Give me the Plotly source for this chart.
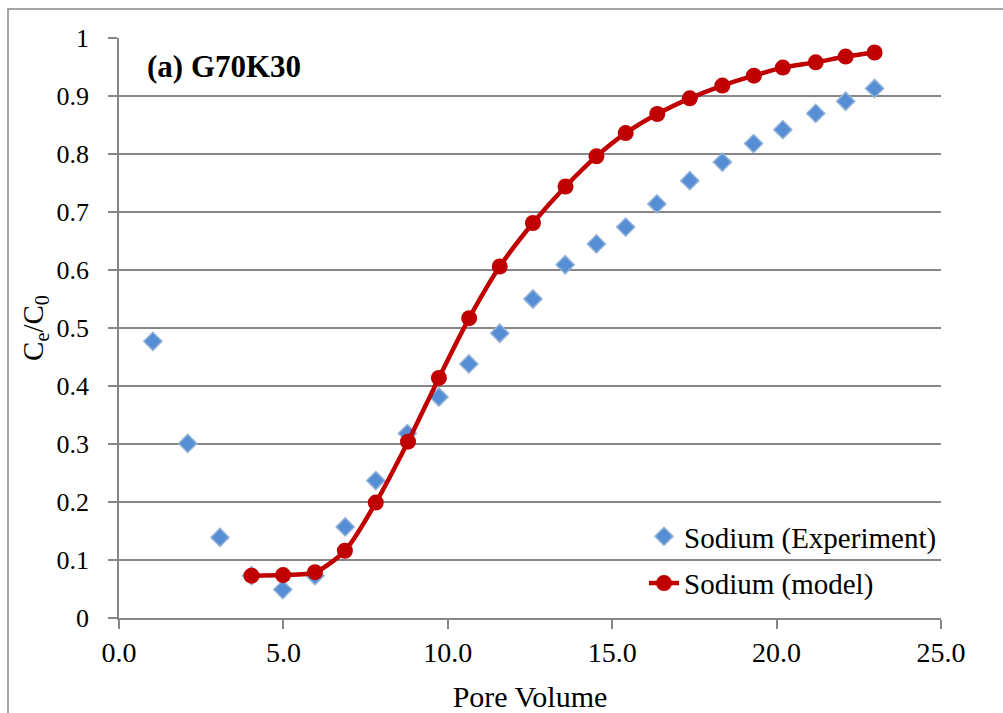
import plotly.graph_objects as go

# Experimental data (blue diamonds)
exp_pv = [1.03, 2.09, 3.07, 4.03, 4.98, 5.96, 6.88, 7.81, 8.77, 9.73, 10.64, 11.58,
          12.59, 13.57, 14.52, 15.41, 16.36, 17.36, 18.35, 19.30, 20.19, 21.19, 22.10, 22.98]
exp_c = [0.477, 0.301, 0.139, 0.073, 0.049, 0.073, 0.157, 0.237, 0.318, 0.381, 0.438, 0.491,
         0.550, 0.609, 0.645, 0.674, 0.714, 0.754, 0.786, 0.818, 0.842, 0.870, 0.891, 0.913]

# Model data (red line with circles)
mod_pv = [4.03, 4.99, 5.96, 6.87, 7.81, 8.79, 9.73, 10.65, 11.58, 12.59, 13.58, 14.52,
          15.41, 16.37, 17.36, 18.35, 19.31, 20.19, 21.19, 22.10, 22.98]
mod_c = [0.073, 0.074, 0.079, 0.116, 0.199, 0.304, 0.414, 0.517, 0.606, 0.681, 0.744, 0.796,
         0.836, 0.869, 0.896, 0.918, 0.935, 0.949, 0.958, 0.968, 0.975]

x_ticks = [0, 5, 10, 15, 20, 25]
y_ticks = [0, 0.1, 0.2, 0.3, 0.4, 0.5, 0.6, 0.7, 0.8, 0.9, 1]

FONT = "Liberation Serif"
GRAY = "#868686"

fig = go.Figure()
fig.add_trace(go.Scatter(
    x=exp_pv, y=exp_c, mode="markers", name="Sodium (Experiment)",
    legendgroup="a",
    marker=dict(symbol="diamond", size=14, color="#558ED5",
                line=dict(color="#95B3D7", width=1.5)),
))
fig.add_trace(go.Scatter(
    x=mod_pv, y=mod_c, mode="lines+markers", name="Sodium (model)",
    legendgroup="b",
    line=dict(color="#C00000", width=4.5, shape="spline", smoothing=0.8),
    marker=dict(symbol="circle", size=16, color="#C00000"),
))

L, R, T, B = 119, 62, 38, 95
W, H = 1003, 713
pw = W - L - R
ph = H - T - B

fig.update_layout(
    width=W, height=H,
    margin=dict(l=L, r=R, t=T, b=B, autoexpand=False),
    paper_bgcolor="white", plot_bgcolor="white",
    font=dict(family=FONT, color="black", size=26),
    showlegend=True,
    legend=dict(x=(644 - L) / pw, y=(H - B - 511) / ph, xanchor="left", yanchor="top",
                font=dict(size=29, family=FONT, color="black"), bgcolor="rgba(0,0,0,0)",
                tracegroupgap=6),
    xaxis=dict(range=[0, 25], tickvals=x_ticks, tickformat=".1f",
               showgrid=False, zeroline=False, automargin=False,
               showline=True, linecolor=GRAY, linewidth=1.5,
               ticks="outside", ticklen=9, tickcolor=GRAY, tickwidth=1.5,
               tickfont=dict(size=28, family=FONT, color="black"),
               title=dict(text="Pore Volume", font=dict(size=30, family=FONT, color="black"), standoff=20)),
    yaxis=dict(range=[0, 1], tickvals=y_ticks,
               showgrid=True, gridcolor=GRAY, gridwidth=1.5, zeroline=False, automargin=False,
               showline=True, linecolor=GRAY, linewidth=1.5,
               ticks="outside", ticklen=9, tickcolor=GRAY, tickwidth=1.5,
               tickfont=dict(size=26, family=FONT, color="black"), ticklabelstandoff=14,
               title=dict(text="C<sub>e</sub>/C<sub>0</sub>", font=dict(size=29, family=FONT, color="black"), standoff=4)),
    annotations=[dict(text="<b>(a) G70K30</b>", xref="paper", yref="paper",
                      x=(145 - L) / pw, y=(H - B - 66) / ph, xanchor="left", yanchor="middle",
                      showarrow=False, font=dict(size=31, family=FONT, color="black"))],
    shapes=[dict(type="rect", xref="paper", yref="paper",
                 x0=(8 - L) / pw, x1=(1012 - L) / pw,
                 y0=(H - B - 725) / ph, y1=(H - B - 9) / ph,
                 line=dict(color=GRAY, width=1.5), layer="below")],
)

fig.write_html("out.html")
